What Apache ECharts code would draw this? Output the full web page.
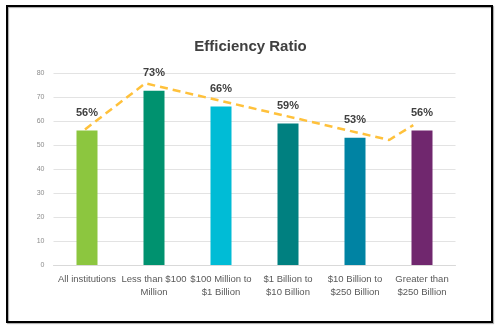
<!DOCTYPE html>
<html>
<head>
<meta charset="utf-8">
<script src="https://cdn.jsdelivr.net/npm/echarts@6/dist/echarts.min.js"></script>
<style>
html,body{margin:0;padding:0;background:#fff;}
#chart{width:501px;height:330px;}
</style>
</head>
<body>
<div id="chart"></div>
<script>
var categories = ['All institutions', 'Less than $100\nMillion', '$100 Million to\n$1 Billion', '$1 Billion to\n$10 Billion', '$10 Billion to\n$250 Billion', 'Greater than\n$250 Billion'];
var ratios = [56, 72.6, 66, 59, 53, 56];
var barColors = ['#8cc63f', '#00926f', '#00bcd6', '#008080', '#0083a3', '#70276e'];
var yTicks = [0, 10, 20, 30, 40, 50, 60, 70, 80];
// dashed trend overlay, x in category units (0..6), y in ratio units
var trendX = [0.47, 1.37, 5.01, 5.37];
var trendY = [56.5, 75.7, 52.1, 58.3];

var chart = echarts.init(document.getElementById('chart'), null, {renderer: 'canvas'});
var option = {
  animation: false,
  backgroundColor: '#ffffff',
  title: {
    text: 'Efficiency Ratio',
    left: 'center',
    top: 34,
    textStyle: {fontFamily: 'Liberation Sans, Arial, sans-serif', fontSize: 15, fontWeight: 'bold', color: '#404040'}
  },
  grid: {left: 53.5, right: 45.5, top: 73, bottom: 65, containLabel: false},
  xAxis: [{
    type: 'category',
    data: categories,
    axisLine: {show: true, lineStyle: {color: '#d9d9d9', width: 1}},
    axisTick: {show: false},
    axisLabel: {interval: 0, color: '#595959', fontSize: 9.5, lineHeight: 13, margin: 8, fontFamily: 'Liberation Sans, Arial, sans-serif'}
  }, {
    type: 'value',
    min: 0, max: 6,
    show: false
  }],
  yAxis: {
    type: 'value',
    min: yTicks[0], max: yTicks[yTicks.length - 1], interval: 10,
    axisLine: {show: false},
    axisTick: {show: false},
    splitLine: {lineStyle: {color: '#e3e3e3', width: 1}},
    axisLabel: {color: '#8c8c8c', fontSize: 7, margin: 9, fontFamily: 'Liberation Sans, Arial, sans-serif'}
  },
  series: [{
    type: 'bar',
    xAxisIndex: 0,
    barWidth: 21,
    data: ratios.map(function (v, i) { return {value: v, itemStyle: {color: barColors[i]}}; }),
    label: {
      show: true,
      position: 'top',
      distance: 12,
      formatter: function (p) { return Math.round(p.value) + '%'; },
      fontFamily: 'Liberation Sans, Arial, sans-serif',
      fontSize: 11,
      fontWeight: 'bold',
      color: '#404040'
    }
  }, {
    type: 'line',
    xAxisIndex: 1,
    data: trendX.map(function (x, i) { return [x, trendY[i]]; }),
    symbol: 'none',
    z: 5,
    lineStyle: {color: '#ffc13b', width: 2.5, type: [8, 5]}
  }],
  graphic: [{
    type: 'rect',
    shape: {x: 7, y: 6, width: 485, height: 316},
    style: {fill: 'none', stroke: '#000', lineWidth: 2, shadowColor: 'rgba(0,0,0,0.35)', shadowOffsetX: 1, shadowOffsetY: 1, shadowBlur: 1},
    z: 100
  }]
};
chart.setOption(option);
</script>
</body>
</html>
